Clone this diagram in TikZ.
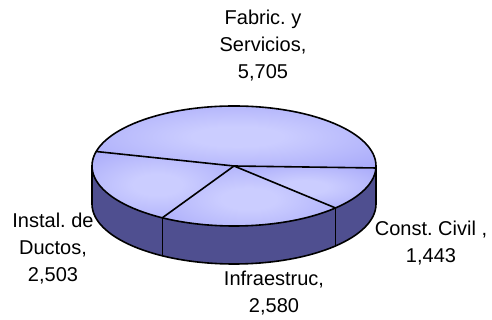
\documentclass[tikz,border=0pt]{standalone}
\usepackage{fontspec}
\setmainfont{Liberation Sans}
\usetikzlibrary{calc}
\definecolor{topin}{HTML}{CBCDFF}
\definecolor{topout}{HTML}{9394F6}
\definecolor{sideblue}{HTML}{4F4F90}
\definecolor{sidegray}{HTML}{5C5C6A}
% soft glow used on each slice of the top face
\pgfdeclareradialshading{slicelight}{\pgfpoint{0bp}{0bp}}{color(0bp)=(topin); color(8bp)=(topin); color(50bp)=(topout); color(80bp)=(topout)}
\frenchspacing
\begin{document}
\begin{tikzpicture}[x=1pt,y=1pt,
  er/.style={x radius=142pt,y radius=60pt},
  rim/.style={draw=black,line width=1.6pt,line join=round,line cap=round},
  slicetop/.style={shading=slicelight},
  wall/.style={left color=sideblue,middle color=sidegray,right color=sideblue},
  lbl/.style={font=\fontsize{20}{27}\selectfont,align=center,inner sep=0pt,anchor=base}]
\useasboundingbox (0,0) rectangle (492,320);
% centre of the top face and the slice boundary points on its rim
\coordinate (C) at (234,154);
\coordinate (pA) at ($(C)+(-1.9:142pt and 60pt)$);
\coordinate (pB) at ($(C)+(166.02:142pt and 60pt)$);
\coordinate (pC) at ($(C)+(239.69:142pt and 60pt)$);
\coordinate (pD) at ($(C)+(315.63:142pt and 60pt)$);
\coordinate (L) at ($(C)+(180:142pt and 60pt)$);
\coordinate (R) at ($(C)+(0:142pt and 60pt)$);
% front wall, one band per slice
\shade[wall] (L) arc[start angle=180,end angle=239.69,er] -- ++(0,-38) arc[start angle=239.69,end angle=180,er] -- cycle;
\shade[wall] (pC) arc[start angle=239.69,end angle=315.63,er] -- ++(0,-38) arc[start angle=315.63,end angle=239.69,er] -- cycle;
\shade[wall] (pD) arc[start angle=315.63,end angle=358.1,er] -- ++(0,-38) arc[start angle=358.1,end angle=315.63,er] -- cycle;
\shade[left color=sideblue,right color=sideblue] (pA) arc[start angle=358.1,end angle=360,er] -- ++(0,-38) arc[start angle=360,end angle=358.1,er] -- cycle;
% top face slices
\shade[slicetop] (C) -- (pA) arc[start angle=-1.9,end angle=166.02,er] -- cycle;
\shade[slicetop] (C) -- (pB) arc[start angle=166.02,end angle=239.69,er] -- cycle;
\shade[slicetop] (C) -- (pC) arc[start angle=239.69,end angle=315.63,er] -- cycle;
\shade[slicetop] (C) -- (pD) arc[start angle=315.63,end angle=358.1,er] -- cycle;
% outlines
\draw[rim] (C) ellipse[er];
\draw[rim] (L) -- ++(0,-38) arc[start angle=180,end angle=360,er] -- (R);
\draw[rim] (pC) -- ++(0,-38);
\draw[rim] (pD) -- ++(0,-38);
\draw[rim] (C) -- (pA);
\draw[rim] (C) -- (pB);
\draw[rim] (C) -- (pC);
\draw[rim] (C) -- (pD);
% labels (anchored at the baseline of their last line)
\node[lbl] (fab) at (263,241) {Fabric. y\\Servicios,\\5,705};
\node[lbl] (ins) at (53,38) {Instal. de\\Ductos,\\2,503};
\node[lbl] (con) at (431,57) {Const. Civil ,\\1,443};
\node[lbl] (inf) at (274,7) {Infraestruc,\\2,580};
\end{tikzpicture}
\end{document}
